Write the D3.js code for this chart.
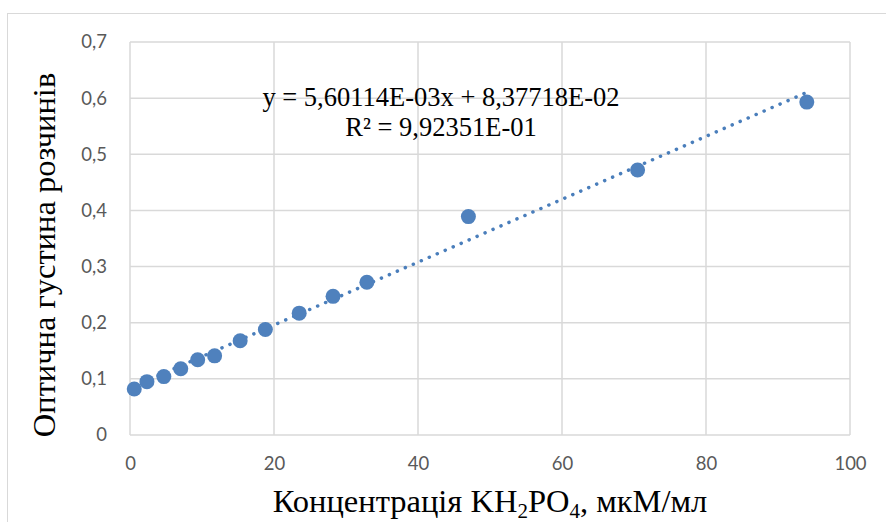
<!DOCTYPE html>
<html>
<head>
<meta charset="utf-8">
<script src="https://cdn.jsdelivr.net/npm/d3@7"></script>
<style>
  html, body { margin: 0; padding: 0; background: #fff; }
  svg { display: block; }
  .serif { font-family: "Liberation Serif", "Times New Roman", serif; }
</style>
</head>
<body>
<svg id="chart" width="886" height="522"></svg>
<script>
// KH2PO4 calibration: concentration (мкМ/мл) vs optical density
const concentration = [0.59, 2.35, 4.7, 7.05, 9.4, 11.75, 15.3, 18.8, 23.5, 28.2, 32.9, 47.0, 70.5, 94.0];
const opticalDensity = [0.082, 0.095, 0.104, 0.118, 0.134, 0.141, 0.168, 0.188, 0.217, 0.247, 0.272, 0.389, 0.472, 0.593];
const xTicks = [0, 20, 40, 60, 80, 100];
const yTicks = [0, 0.1, 0.2, 0.3, 0.4, 0.5, 0.6, 0.7];
const slope = 5.60114e-3;
const intercept = 8.37718e-2;
const equationLines = ["y = 5,60114E-03x + 8,37718E-02", "R² = 9,92351E-01"];

const svg = d3.select("#chart");
const W = 886, H = 522;
const plot = { left: 130, right: 850, top: 42, bottom: 435 };

// outer chart frame
svg.append("rect")
  .attr("x", 7.5).attr("y", 13.5)
  .attr("width", W + 10).attr("height", H + 10)
  .attr("fill", "#fff").attr("stroke", "#d9d9d9").attr("stroke-width", 1);

const x = d3.scaleLinear().domain([0, 100]).range([plot.left, plot.right]);
const y = d3.scaleLinear().domain([0, 0.7]).range([plot.bottom, plot.top]);

const fmt = v => d3.format(".1~f")(v).replace(".", ",");

// gridlines
const grid = svg.append("g");
grid.selectAll("line.h").data(yTicks).join("line")
  .attr("x1", plot.left).attr("x2", plot.right)
  .attr("y1", d => y(d)).attr("y2", d => y(d))
  .attr("stroke", "#d9d9d9").attr("stroke-width", 1.5);
grid.selectAll("line.v").data(xTicks).join("line")
  .attr("y1", plot.top).attr("y2", plot.bottom)
  .attr("x1", d => x(d)).attr("x2", d => x(d))
  .attr("stroke", "#d9d9d9").attr("stroke-width", 1.5);

// axes (labels only, lines hidden)
const xAxis = svg.append("g")
  .attr("transform", `translate(0,${plot.bottom})`)
  .call(d3.axisBottom(x).tickValues(xTicks).tickSize(0).tickPadding(22).tickFormat(d => d));
const yAxis = svg.append("g")
  .attr("transform", `translate(${plot.left},0)`)
  .call(d3.axisLeft(y).tickValues(yTicks).tickSize(0).tickPadding(23).tickFormat(fmt));
[xAxis, yAxis].forEach(a => {
  a.select(".domain").remove();
  a.selectAll("text")
    .style("font-family", "Lato, 'Open Sans', sans-serif")
    .style("font-size", "18.5px")
    .attr("fill", "#595959");
});

// linear trendline (dotted) over the data range
const xMin = d3.min(concentration), xMax = d3.max(concentration);
svg.append("line")
  .attr("x1", x(xMin)).attr("y1", y(slope * xMin + intercept))
  .attr("x2", x(xMax)).attr("y2", y(slope * xMax + intercept))
  .attr("stroke", "#4a7ebb").attr("stroke-width", 3.5)
  .attr("stroke-linecap", "round")
  .attr("stroke-dasharray", "0.1 8.6");

// data points
svg.append("g").selectAll("circle")
  .data(concentration.map((c, i) => [c, opticalDensity[i]]))
  .join("circle")
  .attr("cx", d => x(d[0])).attr("cy", d => y(d[1]))
  .attr("r", 7.5)
  .attr("fill", "#4f81bd");

// trendline equation
svg.append("text")
  .attr("class", "serif")
  .attr("text-anchor", "middle")
  .style("font-size", "26.5px").attr("fill", "#000")
  .selectAll("tspan").data(equationLines).join("tspan")
  .attr("x", 441).attr("y", (d, i) => 106 + i * 30)
  .text(d => d);

// axis titles
svg.append("text")
  .attr("class", "serif")
  .attr("transform", `translate(55,255) rotate(-90)`)
  .attr("text-anchor", "middle")
  .style("font-size", "32.5px").attr("fill", "#000")
  .text("Оптична густина розчинів");

const xt = svg.append("text")
  .attr("class", "serif")
  .attr("x", 490).attr("y", 512)
  .attr("text-anchor", "middle")
  .style("font-size", "32.5px").attr("fill", "#000");
xt.append("tspan").text("Концентрація KH");
xt.append("tspan").style("font-size", "21px").attr("dy", 6).text("2");
xt.append("tspan").attr("dy", -6).text("PO");
xt.append("tspan").style("font-size", "21px").attr("dy", 6).text("4");
xt.append("tspan").attr("dy", -6).text(", мкМ/мл");
</script>
</body>
</html>
